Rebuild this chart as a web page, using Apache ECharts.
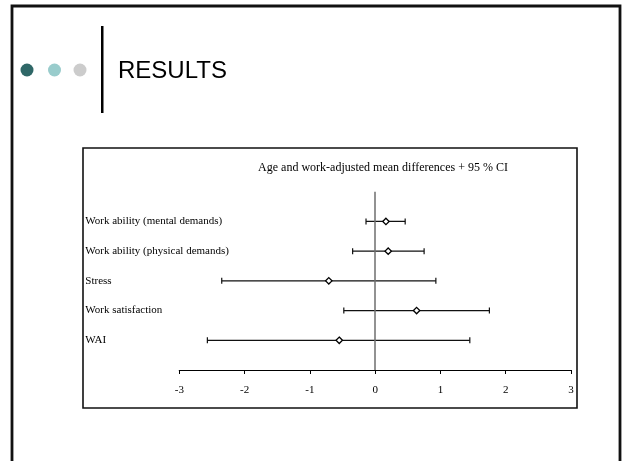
<!DOCTYPE html>
<html>
<head>
<meta charset="utf-8">
<script src="https://cdn.jsdelivr.net/npm/echarts@6/dist/echarts.min.js"></script>
<style>
  html, body { margin: 0; padding: 0; background: #fff; }
  #chart { width: 624px; height: 461px; }
</style>
</head>
<body>
<div id="chart"></div>
<script>
// Outcome rows, listed top to bottom
const categories = [
  'Work ability (mental demands)',
  'Work ability (physical demands)',
  'Stress',
  'Work satisfaction',
  'WAI'
];
// Adjusted mean differences and 95 % confidence limits
const meanDiff = [0.165, 0.20, -0.71, 0.635, -0.55];
const ciLower  = [-0.14, -0.345, -2.35, -0.48, -2.57];
const ciUpper  = [0.46, 0.75, 0.93, 1.75, 1.45];
const xTicks = [-3, -2, -1, 0, 1, 2, 3];

const nRows = categories.length;
// each row sits on an integer slot of the vertical value axis, top row highest
const rows = categories.map((c, i) => [ciLower[i], ciUpper[i], meanDiff[i], nRows - i]);

const chart = echarts.init(document.getElementById('chart'), null, { renderer: 'canvas' });

const serif = '"Liberation Serif", "Times New Roman", serif';

chart.setOption({
  animation: false,
  backgroundColor: '#ffffff',
  title: {
    text: 'Age and work-adjusted mean differences + 95 % CI',
    left: 378,
    top: 157,
    textAlign: 'center',
    textStyle: { fontFamily: serif, fontSize: 12, fontWeight: 'normal', color: '#000' }
  },
  graphic: [
    // slide frame
    { type: 'polyline', shape: { points: [[12, 470], [12, 6], [620, 6], [620, 470]] },
      style: { stroke: '#111', lineWidth: 2.8, fill: null }, z: 10 },
    // header dots
    { type: 'circle', shape: { cx: 27, cy: 70, r: 6.5 }, style: { fill: '#2f6767' } },
    { type: 'circle', shape: { cx: 54.5, cy: 70, r: 6.5 }, style: { fill: '#99cccc' } },
    { type: 'circle', shape: { cx: 80, cy: 70, r: 6.5 }, style: { fill: '#cccccc' } },
    // header divider
    { type: 'rect', shape: { x: 101, y: 26, width: 2.5, height: 87 }, style: { fill: '#000' } },
    { type: 'text', left: 118, top: 59,
      style: { text: 'RESULTS', fontFamily: 'Liberation Sans, Arial, sans-serif', fontSize: 24, fill: '#000' } },
    // chart frame
    { type: 'rect', shape: { x: 83, y: 148, width: 494, height: 260 },
      style: { stroke: '#111', lineWidth: 1.6, fill: null }, z: 5 }
  ],
  grid: { left: 179.3, right: 53, top: 191.7, bottom: 91 },
  xAxis: {
    type: 'value',
    min: -3,
    max: 3,
    interval: 1,
    axisLine: { show: true, onZero: false, lineStyle: { color: '#000', width: 1.2 } },
    axisTick: { show: true, inside: false, length: 4, lineStyle: { color: '#000' } },
    splitLine: { show: false },
    axisLabel: {
      margin: 15,
      fontFamily: serif, fontSize: 11, color: '#000',
      formatter: v => xTicks.includes(v) ? String(v) : ''
    }
  },
  yAxis: {
    type: 'value',
    min: 0,
    max: nRows + 1,
    interval: 1,
    axisLine: { show: false },
    axisTick: { show: false },
    splitLine: { show: false },
    axisLabel: {
      align: 'left',
      margin: 94,
      fontFamily: serif, fontSize: 11, color: '#000',
      formatter: v => (v >= 1 && v <= nRows) ? categories[nRows - v] : ''
    }
  },
  series: [
    {
      type: 'custom',
      data: rows,
      encode: { x: [0, 1, 2], y: 3 },
      z: 3,
      renderItem: function (params, api) {
        const y = api.value(3);
        const pLo = api.coord([api.value(0), y]);
        const pHi = api.coord([api.value(1), y]);
        const pM = api.coord([api.value(2), y]);
        const cap = 3;
        const lineStyle = { stroke: '#111', lineWidth: 1.2, fill: null };
        const s = 3.2;
        return {
          type: 'group',
          children: [
            { type: 'line', shape: { x1: pLo[0], y1: pLo[1], x2: pHi[0], y2: pHi[1] }, style: lineStyle },
            { type: 'line', shape: { x1: pLo[0], y1: pLo[1] - cap, x2: pLo[0], y2: pLo[1] + cap }, style: lineStyle },
            { type: 'line', shape: { x1: pHi[0], y1: pHi[1] - cap, x2: pHi[0], y2: pHi[1] + cap }, style: lineStyle },
            { type: 'polygon', z2: 10,
              shape: { points: [[pM[0], pM[1] - s], [pM[0] + s, pM[1]], [pM[0], pM[1] + s], [pM[0] - s, pM[1]]] },
              style: { fill: '#fff', stroke: '#000', lineWidth: 1.3 } }
          ]
        };
      },
      markLine: {
        silent: true,
        symbol: ['none', 'none'],
        label: { show: false },
        lineStyle: { color: '#6e6e6e', width: 1.5, type: 'solid' },
        data: [{ xAxis: 0 }]
      }
    }
  ]
});
</script>
</body>
</html>
